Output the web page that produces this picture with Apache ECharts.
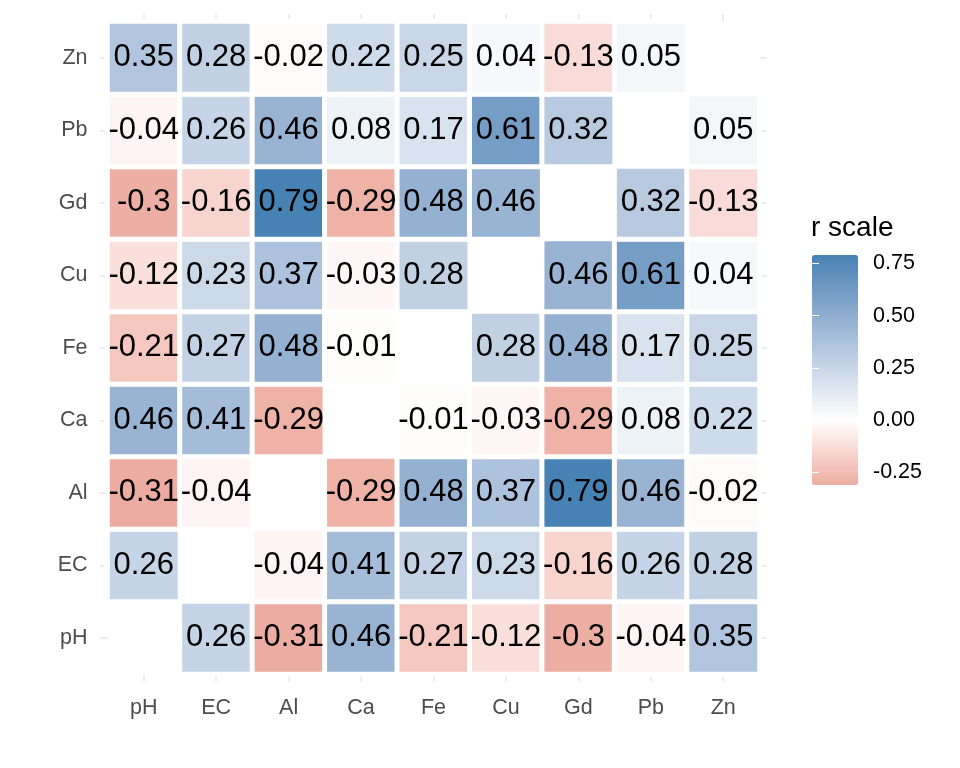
<!DOCTYPE html>
<html><head><meta charset="utf-8">
<script src="https://cdn.jsdelivr.net/npm/echarts@6/dist/echarts.min.js"></script>
<style>html,body{margin:0;padding:0;background:#fff}#chart{width:960px;height:768px}</style>
</head><body><div id="chart"></div>
<script>
// ---- data ----
const variables = ['pH', 'EC', 'Al', 'Ca', 'Fe', 'Cu', 'Gd', 'Pb', 'Zn'];
const r_pH = [null, 0.26, -0.31, 0.46, -0.21, -0.12, -0.3, -0.04, 0.35];
const r_EC = [0.26, null, -0.04, 0.41, 0.27, 0.23, -0.16, 0.26, 0.28];
const r_Al = [-0.31, -0.04, null, -0.29, 0.48, 0.37, 0.79, 0.46, -0.02];
const r_Ca = [0.46, 0.41, -0.29, null, -0.01, -0.03, -0.29, 0.08, 0.22];
const r_Fe = [-0.21, 0.27, 0.48, -0.01, null, 0.28, 0.48, 0.17, 0.25];
const r_Cu = [-0.12, 0.23, 0.37, -0.03, 0.28, null, 0.46, 0.61, 0.04];
const r_Gd = [-0.3, -0.16, 0.79, -0.29, 0.48, 0.46, null, 0.32, -0.13];
const r_Pb = [-0.04, 0.26, 0.46, 0.08, 0.17, 0.61, 0.32, null, 0.05];
const r_Zn = [0.35, 0.28, -0.02, 0.22, 0.25, 0.04, -0.13, 0.05, null];
const rows = [r_pH, r_EC, r_Al, r_Ca, r_Fe, r_Cu, r_Gd, r_Pb, r_Zn];
const legendTicks = [-0.25, 0, 0.25, 0.5, 0.75];
const scaleMin = -0.31, scaleMax = 0.79;
const legendTitle = 'r scale';

// ---- colour scale (ggplot gradient2: firebrick - white - steelblue, Lab) ----
const LOW = '#B22222', MID = '#FFFFFF', HIGH = '#4682B4';
function s2l(c){c/=255;return c<=0.04045?c/12.92:Math.pow((c+0.055)/1.055,2.4);}
function l2s(c){c=c<=0.0031308?12.92*c:1.055*Math.pow(c,1/2.4)-0.055;return Math.max(0,Math.min(255,Math.round(c*255)));}
function hexToLab(h){
  const r=s2l(parseInt(h.slice(1,3),16)),g=s2l(parseInt(h.slice(3,5),16)),b=s2l(parseInt(h.slice(5,7),16));
  const X=(0.4124564*r+0.3575761*g+0.1804375*b)/0.95047;
  const Y=(0.2126729*r+0.7151522*g+0.0721750*b);
  const Z=(0.0193339*r+0.1191920*g+0.9503041*b)/1.08883;
  const f=t=>t>0.008856?Math.cbrt(t):(7.787*t+16/116);
  const fx=f(X),fy=f(Y),fz=f(Z);
  return [116*fy-16,500*(fx-fy),200*(fy-fz)];
}
function labToRgb(L,a,b){
  const fy=(L+16)/116,fx=fy+a/500,fz=fy-b/200;
  const fi=t=>{const t3=t*t*t;return t3>0.008856?t3:(t-16/116)/7.787;};
  const X=fi(fx)*0.95047,Y=fi(fy),Z=fi(fz)*1.08883;
  const r=3.2404542*X-1.5371385*Y-0.4985314*Z;
  const g=-0.9692660*X+1.8760108*Y+0.0415560*Z;
  const bb=0.0556434*X-0.2040259*Y+1.0572252*Z;
  return 'rgb('+l2s(r)+','+l2s(g)+','+l2s(bb)+')';
}
const labLow=hexToLab(LOW), labMid=hexToLab(MID), labHigh=hexToLab(HIGH);
const halfRange=Math.max(Math.abs(scaleMin),Math.abs(scaleMax));
function colorFor(v){
  const t=Math.min(1,Math.abs(v)/halfRange);
  const end=v<0?labLow:labHigh;
  return labToRgb(labMid[0]+(end[0]-labMid[0])*t,labMid[1]+(end[1]-labMid[1])*t,labMid[2]+(end[2]-labMid[2])*t);
}
const nStops=110;
const stops=[];
for(let i=0;i<=nStops;i++){stops.push(colorFor(scaleMin+(scaleMax-scaleMin)*i/nStops));}

// ---- build heatmap data ----
const heatData=[];
rows.forEach((row,yi)=>row.forEach((v,xi)=>{ if(v!==null) heatData.push([xi,yi,v]); }));
const gridPositions=variables.map((_,i)=>i);

const FONT="'Liberation Sans', Arial, sans-serif";
const chart=echarts.init(document.getElementById('chart'),null,{renderer:'canvas'});
chart.setOption({
  animation:false,
  backgroundColor:'#fff',
  textStyle:{fontFamily:FONT},
  title:{text:legendTitle,left:811,top:214,padding:0,textStyle:{fontSize:28,fontWeight:'normal',color:'#000',fontFamily:FONT}},
  grid:[
    {left:107.5,top:21.5,width:652,height:652.5,show:true,backgroundColor:'#fff',borderWidth:0,z:1},
    {left:100.3,top:14.25,width:666.4,height:667,z:0},
    {left:812,top:255,width:46,height:230}
  ],
  xAxis:[
    {type:'category',gridIndex:0,data:variables,axisLine:{show:false},axisTick:{show:false},splitLine:{show:false},
     axisLabel:{color:'#4D4D4D',fontSize:21.5,margin:23,fontFamily:FONT}},
    {type:'value',gridIndex:1,min:-0.6,max:8.6,axisLine:{show:false},axisLabel:{show:false},
     axisTick:{show:false,customValues:gridPositions},splitLine:{show:true,lineStyle:{color:'#EBEBEB',width:2}}},
    {type:'value',gridIndex:2,show:false}
  ],
  yAxis:[
    {type:'category',gridIndex:0,data:variables,axisLine:{show:false},axisTick:{show:false},splitLine:{show:false},
     axisLabel:{color:'#4D4D4D',fontSize:21.5,margin:20,padding:[4,0,0,0],fontFamily:FONT}},
    {type:'value',gridIndex:1,min:-0.6,max:8.6,axisLine:{show:false},axisLabel:{show:false},
     axisTick:{show:false,customValues:gridPositions},splitLine:{show:true,lineStyle:{color:'#EBEBEB',width:2}}},
    {type:'value',gridIndex:2,min:scaleMin,max:scaleMax,position:'right',z:10,axisLine:{show:false},splitLine:{show:false},
     axisTick:{show:true,inside:true,length:7,customValues:legendTicks,lineStyle:{color:'#fff',width:1}},
     axisLabel:{customValues:legendTicks,formatter:v=>Number(v).toFixed(2),color:'#000',fontSize:21.5,margin:15,fontFamily:FONT}},
    {type:'value',gridIndex:2,min:scaleMin,max:scaleMax,position:'left',z:10,axisLine:{show:false},splitLine:{show:false},
     axisTick:{show:true,inside:true,length:7,customValues:legendTicks,lineStyle:{color:'#fff',width:1}},
     axisLabel:{show:false}}
  ],
  visualMap:{type:'continuous',min:scaleMin,max:scaleMax,seriesIndex:0,calculable:false,hoverLink:false,orient:'vertical',
    left:812,top:255,itemWidth:46,itemHeight:230,padding:0,inRange:{color:stops}},
  series:[{
    type:'heatmap',xAxisIndex:0,yAxisIndex:0,data:heatData,
    itemStyle:{borderColor:'#fff',borderWidth:5},
    label:{show:true,formatter:p=>String(p.value[2]),color:'#000',fontSize:31,fontFamily:FONT},
    emphasis:{disabled:true}
  }]
});
</script></body></html>
